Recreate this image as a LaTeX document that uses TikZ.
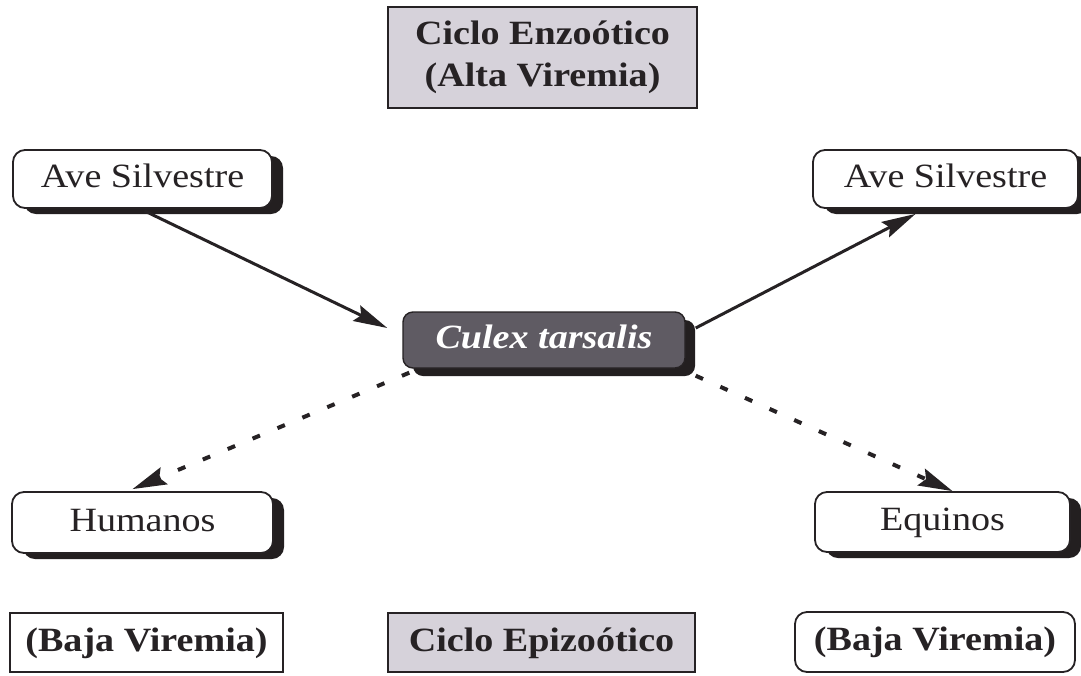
\documentclass[tikz,border=0pt]{standalone}
\usepackage{fontspec}
\setmainfont{Liberation Serif}[FakeStretch=1.12]
\usetikzlibrary{arrows.meta,shadows}
\definecolor{lav}{HTML}{D6D2DA}
\definecolor{culexc}{HTML}{5F5B63}
\definecolor{shadowc}{HTML}{231F20}
\definecolor{ink}{HTML}{262224}
\tikzset{
  base/.style={font=\fontsize{34}{42}\selectfont, text=ink, align=center, inner sep=0pt},
  oneline/.style={text height=24pt, text depth=7pt},
  titlebox/.style={base, draw=ink, line width=1.8pt, fill=lav, font=\fontsize{34}{42}\selectfont\bfseries},
  plainbox/.style={base, oneline, draw=ink, line width=1.8pt, font=\fontsize{34}{42}\selectfont\bfseries},
  hostbox/.style={base, oneline, draw=ink, line width=1.8pt, fill=white, rounded corners=12pt,
     drop shadow={shadow xshift=11pt, shadow yshift=-6pt, fill=shadowc, opacity=1}},
  vecbox/.style={base, oneline, draw=ink, line width=1.4pt, fill=culexc, text=white, rounded corners=10pt,
     font=\fontsize{34}{42}\selectfont\bfseries\itshape,
     drop shadow={shadow xshift=10pt, shadow yshift=-8pt, fill=shadowc, opacity=1}},
  solidarrow/.style={draw=ink, line width=3pt, -{Stealth[length=34pt,width=17pt,inset=5pt]}},
  dasharrow/.style={draw=ink, line width=4pt, dash pattern=on 8pt off 19pt, -{Stealth[length=34pt,width=18pt,inset=5pt]}}
}
\begin{document}
\begin{tikzpicture}[x=1pt,y=-1pt]
\useasboundingbox[fill=white] (0,0) rectangle (1081,675);
\node[titlebox, minimum width=309pt, minimum height=101pt] (top) at (542.5,57.5) {Ciclo Enzoótico\\(Alta Viremia)};
\node[hostbox, minimum width=259pt, minimum height=58pt] (aveL) at (142.5,179) {Ave Silvestre};
\node[hostbox, minimum width=265pt, minimum height=58pt] (aveR) at (945.5,179) {Ave Silvestre};
\node[vecbox, minimum width=282pt, minimum height=56pt] (culex) at (544,340) {Culex tarsalis};
\node[hostbox, minimum width=261pt, minimum height=61pt] (hum) at (142.5,522.5) {Humanos};
\node[hostbox, minimum width=255pt, minimum height=60pt] (equ) at (942.5,522) {Equinos};
\node[plainbox, minimum width=273pt, minimum height=59pt] (bajaL) at (146.5,642.5) {(Baja Viremia)};
\node[titlebox, oneline, minimum width=307pt, minimum height=59pt] (epi) at (541.5,642.5) {Ciclo Epizoótico};
\node[plainbox, rounded corners=12pt, minimum width=280pt, minimum height=60pt] (bajaR) at (935,642) {(Baja Viremia)};

\draw[solidarrow] ([shift={(2,2)}]aveL.south) -- ([shift={(-15,-12)}]culex.west);
\draw[solidarrow] ([shift={(10,-12)}]culex.east) -- ([shift={(-30,5)}]aveR.south);
\draw[dasharrow] ([shift={(7,4)}]culex.south west) -- ([shift={(-10,-2)}]hum.north);
\draw[dasharrow] ([shift={(10,7)}]culex.south east) -- ([shift={(10,0)}]equ.north);
\end{tikzpicture}
\end{document}
